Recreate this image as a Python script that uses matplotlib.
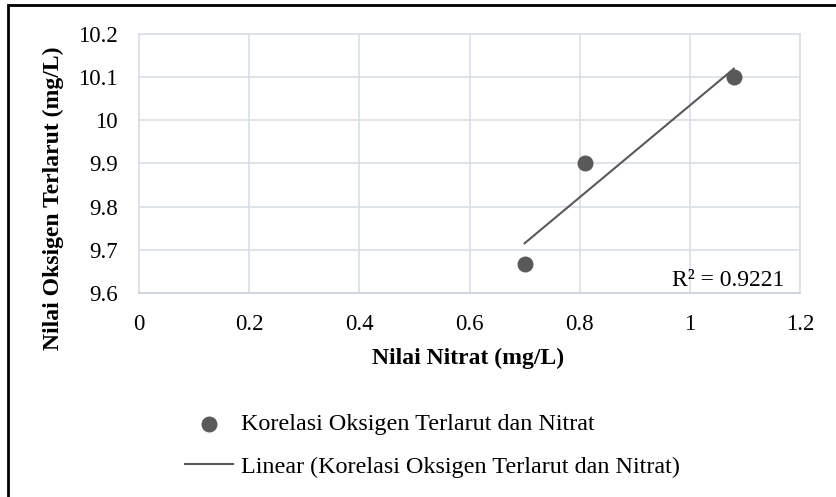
import numpy as np
import matplotlib.pyplot as plt
from matplotlib.patches import Rectangle

# nitrate vs dissolved oxygen
nitrat = [0.70, 0.81, 1.08]
oksigen = [9.667, 9.90, 10.10]
r2_label = "R² = 0.9221"
series_name = "Korelasi Oksigen Terlarut dan Nitrat"
xticks = [0, 0.2, 0.4, 0.6, 0.8, 1, 1.2]
yticks = [9.6, 9.7, 9.8, 9.9, 10, 10.1, 10.2]

plt.rcParams['font.family'] = ['Liberation Serif', 'DejaVu Serif']

fig = plt.figure(figsize=(8.36, 4.97), dpi=100)
ax = fig.add_axes([139/836, 1-293/497, 661/836, 259/497])

grid_c = '#D9DEE6'
pt_c = '#595959'

ax.scatter(nitrat, oksigen, s=110, color=pt_c, zorder=3, label=series_name)

# linear trendline
m, b = np.polyfit(nitrat, oksigen, 1)
xs = np.array([min(nitrat), max(nitrat)])
ax.plot(xs, m*xs + b, color=pt_c, lw=1.5, zorder=2,
        label='Linear (' + series_name + ')')

ax.set_xlim(0, 1.2)
ax.set_ylim(9.6, 10.2)
ax.set_xticks(xticks)
ax.set_xticklabels(['0', '0.2', '0.4', '0.6', '0.8', '1', '1.2'])
ax.set_yticks(yticks)
ax.set_yticklabels(['9.6', '9.7', '9.8', '9.9', '10', '10.1', '10.2'])
ax.tick_params(length=0, labelsize=16.5, colors='#000000')
ax.tick_params(axis='x', pad=15)
ax.tick_params(axis='y', pad=15)
ax.grid(True, color=grid_c, lw=1.2)
ax.set_axisbelow(True)
for s in ax.spines.values():
    s.set_color(grid_c)
    s.set_linewidth(1.2)
ax.spines['bottom'].set_color('#C9D0DC')

ax.set_xlabel('Nilai Nitrat (mg/L)', fontsize=17, fontweight='bold')
ax.xaxis.set_label_coords((468-139)/661, (293-358)/259)
ax.set_ylabel('Nilai Oksigen Terlarut (mg/L)', fontsize=17, fontweight='bold')
ax.yaxis.set_label_coords((53-139)/661, (293-198)/259)
ax.yaxis.label.set_va('center')
ax.xaxis.label.set_va('center')

ax.text(0.977, 0.05, r2_label, transform=ax.transAxes, ha='right', va='center',
        fontsize=17)

leg = fig.legend(loc='upper left', bbox_to_anchor=(185/836, 1-413/497),
                 frameon=False, fontsize=17.4, handlelength=2.0,
                 handletextpad=0.3, labelspacing=0.86, borderpad=0,
                 borderaxespad=0)

# outer frame (only top and left edges fall inside the image)
fig.patches.append(Rectangle((8/836, -0.1), 1.2, 1.1 - 5/497,
                             transform=fig.transFigure, fill=False,
                             edgecolor='black', lw=2))

fig.savefig('out.png', dpi=100)
